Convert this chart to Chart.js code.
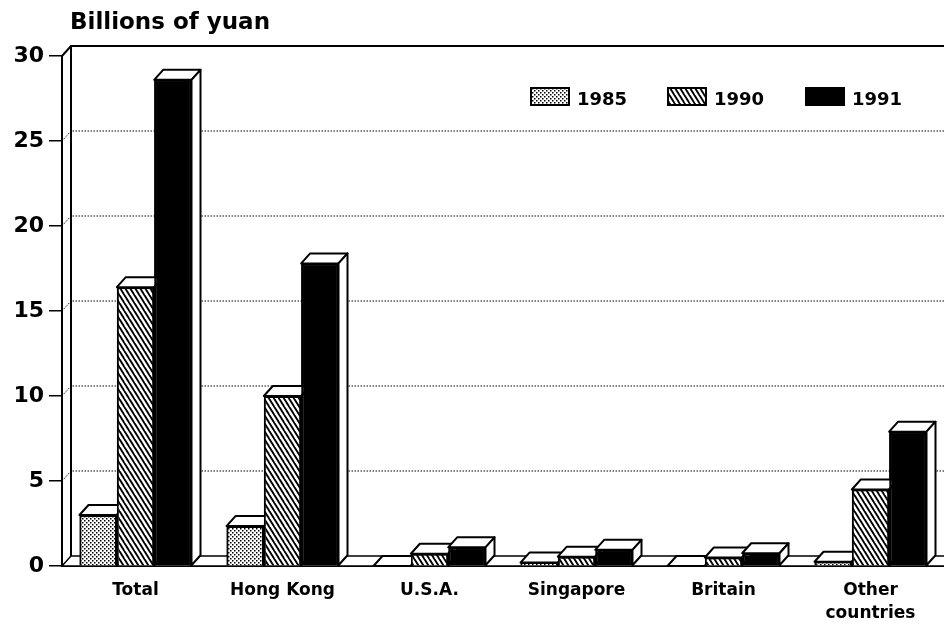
<!DOCTYPE html>
<html><head><meta charset="utf-8">
<script src="https://cdn.jsdelivr.net/npm/chart.js@4"></script>
<style>html,body{margin:0;padding:0;background:#fff}#wrap{width:944px;height:624px;position:relative}</style>
</head><body><div id="wrap"><canvas id="c" width="944" height="624"></canvas></div>
<script>
const categories = ['Total', 'Hong Kong', 'U.S.A.', 'Singapore', 'Britain', ['Other', 'countries']];
const seriesNames = ['1985', '1990', '1991'];
const values1985 = [3.0, 2.35, 0, 0.2, 0, 0.25];
const values1990 = [16.4, 10.0, 0.72, 0.55, 0.5, 4.5];
const values1991 = [28.6, 17.8, 1.1, 0.95, 0.75, 7.9];
const yTicks = [0, 5, 10, 15, 20, 25, 30];
const axisTitle = 'Billions of yuan';

const FONT = '"DejaVu Sans", "Liberation Sans", Arial, sans-serif';
const DX = 9, DY = -10;

function dotPattern() {
  const c = document.createElement('canvas'); c.width = 4; c.height = 4;
  const g = c.getContext('2d');
  g.fillStyle = '#fff'; g.fillRect(0, 0, 4, 4);
  g.fillStyle = '#000'; g.fillRect(0, 0, 1.5, 1.5); g.fillRect(2, 2, 1.5, 1.5);
  return g.createPattern(c, 'repeat');
}
function hatchPattern() {
  const w = 5, h = 8;
  const c = document.createElement('canvas'); c.width = w; c.height = h;
  const g = c.getContext('2d');
  g.fillStyle = '#fff'; g.fillRect(0, 0, w, h);
  g.strokeStyle = '#000'; g.lineWidth = 1.9;
  for (const k of [-w, 0, w]) { g.beginPath(); g.moveTo(k - w, -h); g.lineTo(k + 2 * w, 2 * h); g.stroke(); }
  return g.createPattern(c, 'repeat');
}

const fills = [dotPattern(), hatchPattern(), '#000'];
const seriesValues = [values1985, values1990, values1991];

const depthPlugin = {
  id: 'depth',
  beforeDatasetsDraw(chart) {
    const { ctx, chartArea: a, scales: { y } } = chart;
    ctx.save();
    ctx.strokeStyle = '#000';
    ctx.lineWidth = 1; ctx.setLineDash([1.5, 1.5]);
    yTicks.forEach(v => {
      if (v === 0 || v === 30) return;
      const py = y.getPixelForValue(v);
      ctx.beginPath(); ctx.moveTo(a.left, py); ctx.lineTo(a.left + DX, py + DY); ctx.lineTo(a.right, py + DY); ctx.stroke();
    });
    ctx.setLineDash([]);
    ctx.lineWidth = 2;
    ctx.beginPath(); ctx.moveTo(a.left, a.top); ctx.lineTo(a.left + DX, a.top + DY); ctx.lineTo(a.right, a.top + DY); ctx.stroke();
    ctx.beginPath(); ctx.moveTo(a.left + DX, a.top + DY); ctx.lineTo(a.left + DX, a.bottom + DY); ctx.stroke();
    ctx.fillStyle = '#fff'; ctx.lineWidth = 1.5;
    ctx.beginPath(); ctx.moveTo(a.left, a.bottom); ctx.lineTo(a.left + DX, a.bottom + DY);
    ctx.lineTo(a.right + DX, a.bottom + DY); ctx.lineTo(a.right, a.bottom); ctx.closePath(); ctx.fill(); ctx.stroke();
    ctx.restore();
  },
  afterDatasetsDraw(chart) {
    const ctx = chart.ctx;
    const metas = chart.data.datasets.map((d, i) => chart.getDatasetMeta(i));
    const n = chart.data.labels.length;
    for (let j = 0; j < n; j++) {
      for (let i = 0; i < metas.length; i++) {
        const el = metas[i].data[j];
        el.draw(ctx, chart.chartArea);
        const p = el.getProps(['x', 'y', 'base', 'width'], true);
        const l = p.x - p.width / 2, r = p.x + p.width / 2;
        ctx.save();
        ctx.fillStyle = '#fff'; ctx.strokeStyle = '#000'; ctx.lineWidth = 2; ctx.lineJoin = 'round';
        ctx.beginPath(); ctx.moveTo(l, p.y); ctx.lineTo(l + DX, p.y + DY); ctx.lineTo(r + DX, p.y + DY); ctx.lineTo(r, p.y); ctx.closePath(); ctx.fill(); ctx.stroke();
        ctx.beginPath(); ctx.moveTo(r, p.y); ctx.lineTo(r + DX, p.y + DY); ctx.lineTo(r + DX, p.base + DY); ctx.lineTo(r, p.base); ctx.closePath(); ctx.fill(); ctx.stroke();
        ctx.restore();
      }
    }
  },
  afterDraw(chart) {
    const ctx = chart.ctx, a = chart.chartArea;
    ctx.save();
    ctx.fillStyle = '#000';
    ctx.font = 'bold 23px ' + FONT;
    ctx.textBaseline = 'alphabetic';
    ctx.fillText(axisTitle, a.left + 8, 29);
    const xs = [a.left + 469, a.left + 606, a.left + 744];
    chart.data.datasets.forEach((d, i) => {
      const x = xs[i];
      ctx.fillStyle = d.backgroundColor; ctx.fillRect(x, 88, 38, 17);
      ctx.strokeStyle = '#000'; ctx.lineWidth = 2; ctx.strokeRect(x, 88, 38, 17);
      ctx.fillStyle = '#000'; ctx.font = 'bold 18px ' + FONT;
      ctx.fillText(d.label, x + 46, 105);
    });
    ctx.restore();
  }
};

new Chart(document.getElementById('c'), {
  type: 'bar',
  data: {
    labels: categories,
    datasets: seriesNames.map((name, i) => ({
      label: name,
      data: seriesValues[i],
      backgroundColor: fills[i],
      borderColor: '#000',
      borderWidth: 2
    }))
  },
  options: {
    responsive: false, animation: false, devicePixelRatio: 1,
    layout: { padding: { top: 56, left: 0, right: 0, bottom: 0 } },
    datasets: { bar: { categoryPercentage: 0.762, barPercentage: 1 } },
    plugins: { legend: { display: false }, tooltip: { enabled: false } },
    scales: {
      x: {
        grid: { display: false },
        border: { display: true, color: '#000', width: 2 },
        ticks: { color: '#000', font: { family: FONT, weight: 'bold', size: 17, lineHeight: 1.3 }, padding: 6, maxRotation: 0, autoSkip: false },
        afterFit(s) { s.height = 58; }
      },
      y: {
        min: 0, max: 30,
        ticks: { stepSize: 5, color: '#000', font: { family: FONT, weight: 'bold', size: 22 }, padding: 5 },
        grid: { drawOnChartArea: false, drawTicks: true, tickLength: 13, color: '#000', lineWidth: 1.5 },
        border: { display: true, color: '#000', width: 2 },
        afterFit(s) { s.width = 62; }
      }
    }
  },
  plugins: [depthPlugin]
});
</script></body></html>
